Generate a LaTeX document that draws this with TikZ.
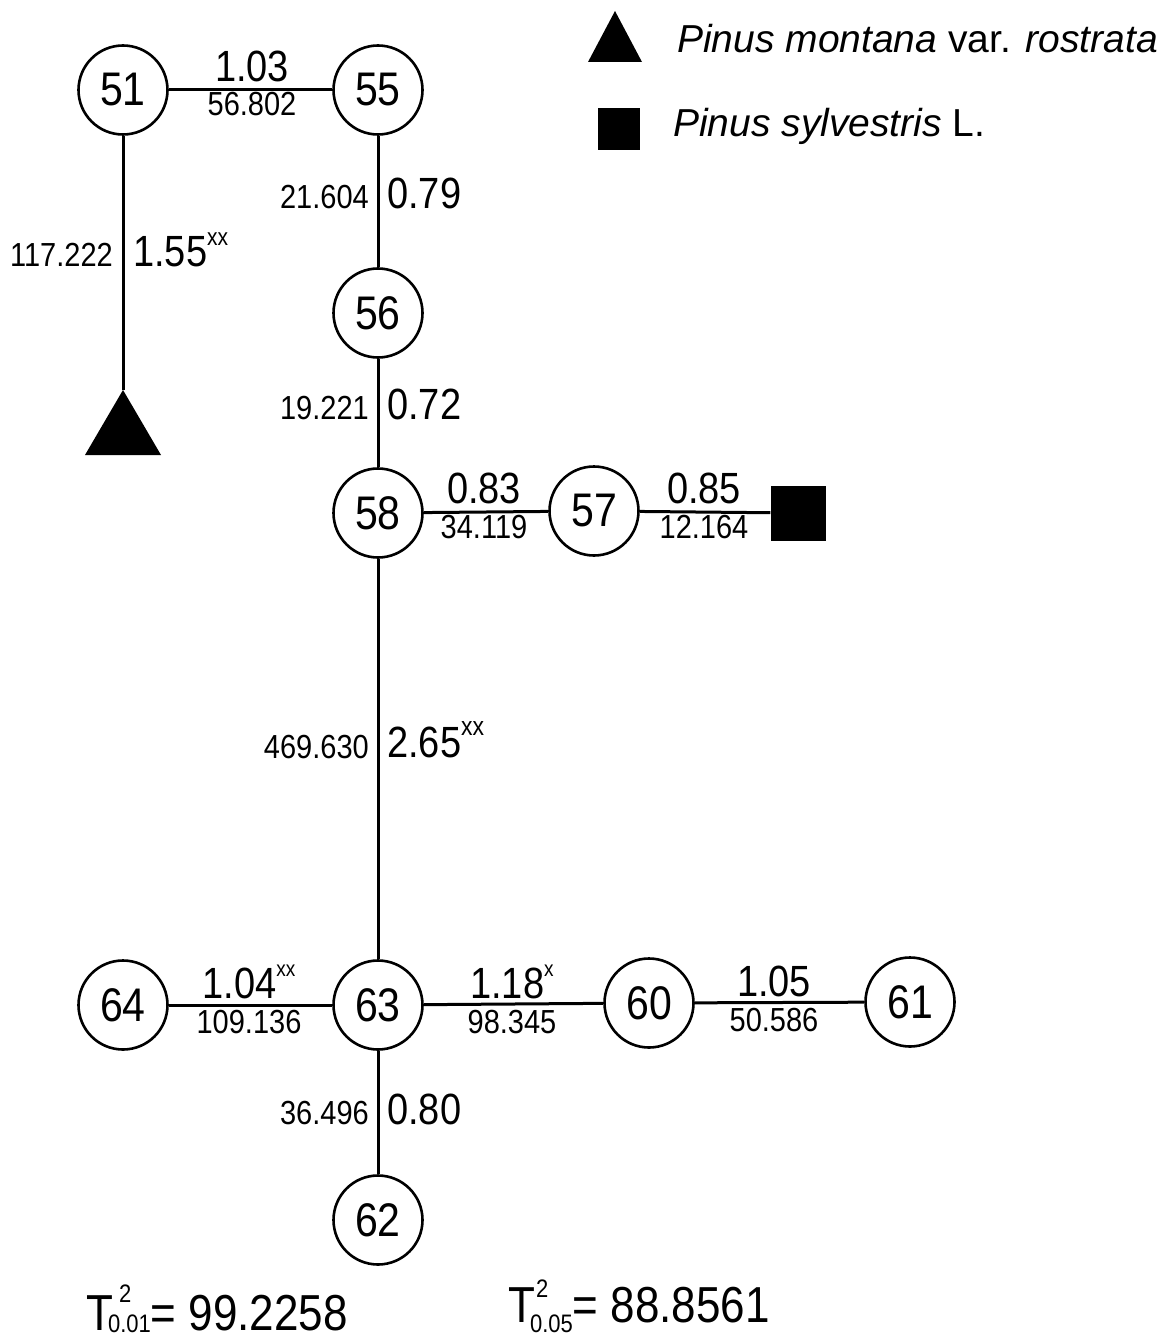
\documentclass[tikz,border=0pt]{standalone}
\usepackage{fontspec}
\setmainfont{Liberation Sans}
\usetikzlibrary{shapes.geometric}
% numbers in the network are set in a slightly tall, narrow style
\newcommand\tall[1]{\scalebox{1}[1.15]{#1}}
\newcommand\sig[2]{#1\raisebox{0.5em}{\fontsize{19}{19}\selectfont #2}}
% T squared with its level: #1 kern of the 2, #2 raise of the 2, #3 drop of the level, #4 level
\newcommand\tsq[4]{T\rlap{\kern#1\raisebox{#2}{\fontsize{22}{22}\selectfont 2}}\kern-5pt\raisebox{-#3}{\fontsize{22}{22}\selectfont #4}}
\begin{document}
\begin{tikzpicture}[x=1pt,y=-1pt,
  hap/.style={circle,draw,line width=2.6pt,minimum size=89pt,inner sep=0pt,
    font=\fontsize{41}{41}\selectfont},
  link/.style={line width=3pt},
  big/.style={inner sep=0pt,font=\fontsize{38}{38}\selectfont},
  small/.style={inner sep=0pt,font=\fontsize{29}{29}\selectfont},
  legendtext/.style={inner sep=0pt,anchor=base west,font=\fontsize{39}{39}\selectfont},
  formula/.style={inner sep=0pt,anchor=base west,font=\fontsize{44}{44}\selectfont}]
\useasboundingbox (0,0) rectangle (1168,1337);

% haplotype nodes
\node[hap] (n51) at (123,90)   {\tall{51}};
\node[hap] (n55) at (378,90)   {\tall{55}};
\node[hap] (n56) at (378,313)  {\tall{56}};
\node[hap] (n58) at (378,513)  {\tall{58}};
\node[hap] (n57) at (594,511)  {\tall{57}};
\node[hap] (n63) at (378,1005) {\tall{63}};
\node[hap] (n64) at (123,1005) {\tall{64}};
\node[hap] (n60) at (649,1003) {\tall{60}};
\node[hap] (n61) at (910,1002) {\tall{61}};
\node[hap] (n62) at (378,1220) {\tall{62}};

% reference species
\coordinate (tri) at (123,390);
\fill (tri) -- (161,455) -- (85,455) -- cycle;
\node[fill,minimum size=55pt,inner sep=0pt] (sq) at (798,513) {};

% connectors
\draw[link] (n51) -- (n55);
\draw[link] (n51) -- (tri);
\draw[link] (n55) -- (n56);
\draw[link] (n56) -- (n58);
\draw[link] (n58) -- (n57);
\draw[link] (n57) -- (sq);
\draw[link] (n58) -- (n63);
\draw[link] (n63) -- (n64);
\draw[link] (n63) -- (n60);
\draw[link] (n60) -- (n61);
\draw[link] (n63) -- (n62);

% distances (large) and T2 values (small)
\node[big,anchor=base]   (d5155) at (252,82)  {\tall{1.03}};
\node[small,anchor=base] (t5155) at (252,116) {\tall{56.802}};
\node[big,anchor=base west]   (d5556) at (387,209) {\tall{0.79}};
\node[small,anchor=base east] (t5556) at (369,209) {\tall{21.604}};
\node[big,anchor=base west]   (d51t) at (133,267) {\tall{\sig{1.55}{\fontsize{21}{21}\selectfont xx}}};
\node[small,anchor=base east] (t51t) at (113,267) {\tall{117.222}};
\node[big,anchor=base west]   (d5658) at (387,419) {\tall{0.72}};
\node[small,anchor=base east] (t5658) at (369,419) {\tall{19.221}};
\node[big,anchor=base]   (d5857) at (484,503) {\tall{0.83}};
\node[small,anchor=base] (t5857) at (484,538) {\tall{34.119}};
\node[big,anchor=base]   (d57s) at (704,503) {\tall{0.85}};
\node[small,anchor=base] (t57s) at (704,538) {\tall{12.164}};
\node[big,anchor=base west]   (d5863) at (387,757) {\tall{\sig{2.65}{\fontsize{23}{23}\selectfont xx}}};
\node[small,anchor=base east] (t5863) at (369,758) {\tall{469.630}};
\node[big,anchor=base]   (d6364) at (249,998)  {\tall{\sig{1.04}{xx}}};
\node[small,anchor=base] (t6364) at (249,1033) {\tall{109.136}};
\node[big,anchor=base]   (d6360) at (512,998)  {\tall{\sig{1.18}{x}}};
\node[small,anchor=base] (t6360) at (512,1033) {\tall{98.345}};
\node[big,anchor=base]   (d6061) at (774,996)  {\tall{1.05}};
\node[small,anchor=base] (t6061) at (774,1031) {\tall{50.586}};
\node[big,anchor=base west]   (d6362) at (387,1124) {\tall{0.80}};
\node[small,anchor=base east] (t6362) at (369,1124) {\tall{36.496}};

% legend
\fill (588,62) -- (642,62) -- (615,11) -- cycle;
\node[legendtext] (lg1) at (677,53) {\textit{Pinus montana} var. \textit{rostrata}};
\node[fill,minimum size=42pt,inner sep=0pt] (lgsq) at (619,129) {};
\node[legendtext] (lg2) at (673,137) {\textit{Pinus sylvestris} L.};

% critical values
\node[formula] (crit1) at (86,1330)  {\tall{\tsq{6pt}{24pt}{2pt}{0.01}= 99.2258}};
\node[formula] (crit5) at (508,1322) {\tall{\tsq{1pt}{21pt}{9pt}{0.05}= 88.8561}};
\end{tikzpicture}
\end{document}
